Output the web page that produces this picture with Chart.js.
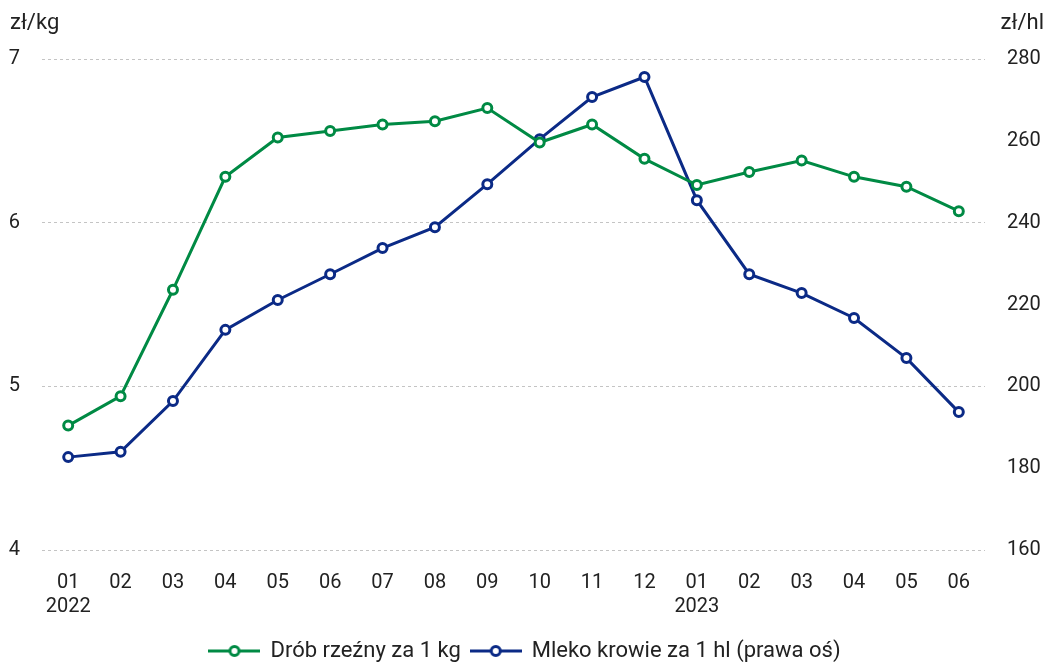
<!DOCTYPE html>
<html>
<head>
<meta charset="utf-8">
<script src="https://cdn.jsdelivr.net/npm/chart.js@4"></script>
<style>
  body { margin: 0; background: #fff; }
  #wrap { width: 1050px; height: 662px; }
</style>
</head>
<body>
<div id="wrap"><canvas id="chart"></canvas></div>
<script>
    'use strict';

    var months = ['01','02','03','04','05','06','07','08','09','10','11','12','01','02','03','04','05','06'];
    var years = {0: '2022', 12: '2023'};
    var poultry = [4.76, 4.94, 5.59, 6.28, 6.52, 6.56, 6.60, 6.62, 6.70, 6.49, 6.60, 6.39, 6.23, 6.31, 6.38, 6.28, 6.22, 6.07];
    var milk = [182.7, 184.0, 196.4, 213.8, 221.1, 227.4, 233.8, 238.9, 249.4, 260.4, 270.7, 275.6, 245.5, 227.4, 222.8, 216.7, 206.9, 193.7];

    var green = '#008A44';
    var navy = '#0B2A86';
    var font = 'Roboto';

    var labels = months.map(function(m, i) {
        return [m, years[i] || ''];
    });

    // little line + circle swatch for the legend
    function swatch(color) {
        var c = document.createElement('canvas');
        c.width = 52; c.height = 14;
        var ctx = c.getContext('2d');
        ctx.strokeStyle = color;
        ctx.lineWidth = 3;
        ctx.beginPath(); ctx.moveTo(0, 7); ctx.lineTo(52, 7); ctx.stroke();
        ctx.fillStyle = '#fff';
        ctx.beginPath(); ctx.arc(26, 7, 4.5, 0, Math.PI * 2); ctx.fill(); ctx.stroke();
        return c;
    }

    var unitTitles = {
        id: 'unitTitles',
        afterDraw: function(chart) {
            var ctx = chart.ctx;
            ctx.save();
            ctx.font = '22px ' + font;
            ctx.fillStyle = '#222';
            ctx.textBaseline = 'middle';
            ctx.textAlign = 'left';
            ctx.fillText('zł/kg', 10, 23);
            ctx.textAlign = 'right';
            ctx.fillText('zł/hl', 1044, 23);
            ctx.restore();
        }
    };

    new Chart(document.getElementById('chart'), {
        type: 'line',
        data: {
            labels: labels,
            datasets: [
                {
                    label: 'Drób rzeźny za 1 kg',
                    data: poultry,
                    yAxisID: 'y',
                    borderColor: green,
                    backgroundColor: '#fff',
                    borderWidth: 3,
                    pointRadius: 4.5,
                    pointBorderWidth: 3,
                    tension: 0
                },
                {
                    label: 'Mleko krowie za 1 hl (prawa oś)',
                    data: milk,
                    yAxisID: 'y1',
                    borderColor: navy,
                    backgroundColor: '#fff',
                    borderWidth: 3,
                    pointRadius: 4.5,
                    pointBorderWidth: 3,
                    tension: 0
                }
            ]
        },
        options: {
            responsive: true,
            maintainAspectRatio: false,
            animation: false,
            layout: {
                padding: { top: 59, left: 0, right: 0, bottom: -10 }
            },
            scales: {
                x: {
                    offset: true,
                    grid: { display: false },
                    border: { display: false },
                    ticks: {
                        color: '#222',
                        font: { family: font, size: 20 },
                        maxRotation: 0,
                        autoSkip: false,
                        padding: 13
                    },
                    afterFit: function(scale) {
                        scale.height -= 2;
                    }
                },
                y: {
                    position: 'left',
                    min: 4,
                    max: 7,
                    grid: {
                        color: '#c4c4c4',
                        drawTicks: false
                    },
                    border: { display: false, dash: [3, 3] },
                    ticks: {
                        stepSize: 1,
                        color: '#222',
                        font: { family: font, size: 20 },
                        padding: 22
                    },
                    afterFit: function(scale) {
                        scale.width = 42;
                    }
                },
                y1: {
                    position: 'right',
                    min: 160,
                    max: 280,
                    grid: { display: false },
                    border: { display: false },
                    ticks: {
                        stepSize: 20,
                        color: '#222',
                        font: { family: font, size: 20 },
                        padding: 14
                    },
                    afterFit: function(scale) {
                        scale.width = 65;
                    }
                }
            },
            plugins: {
                legend: {
                    position: 'bottom',
                    labels: {
                        usePointStyle: true,
                        pointStyleWidth: 50,
                        color: '#222',
                        font: { family: font, size: 22 },
                        padding: 10,
                        generateLabels: function(chart) {
                            return chart.data.datasets.map(function(ds, i) {
                                return {
                                    text: ds.label,
                                    pointStyle: swatch(ds.borderColor),
                                    fontColor: '#222',
                                    lineWidth: 0,
                                    strokeStyle: ds.borderColor,
                                    fillStyle: ds.borderColor,
                                    datasetIndex: i
                                };
                            });
                        }
                    }
                },
                tooltip: { enabled: false }
            }
        },
        plugins: [unitTitles]
    });
</script>
</body>
</html>
